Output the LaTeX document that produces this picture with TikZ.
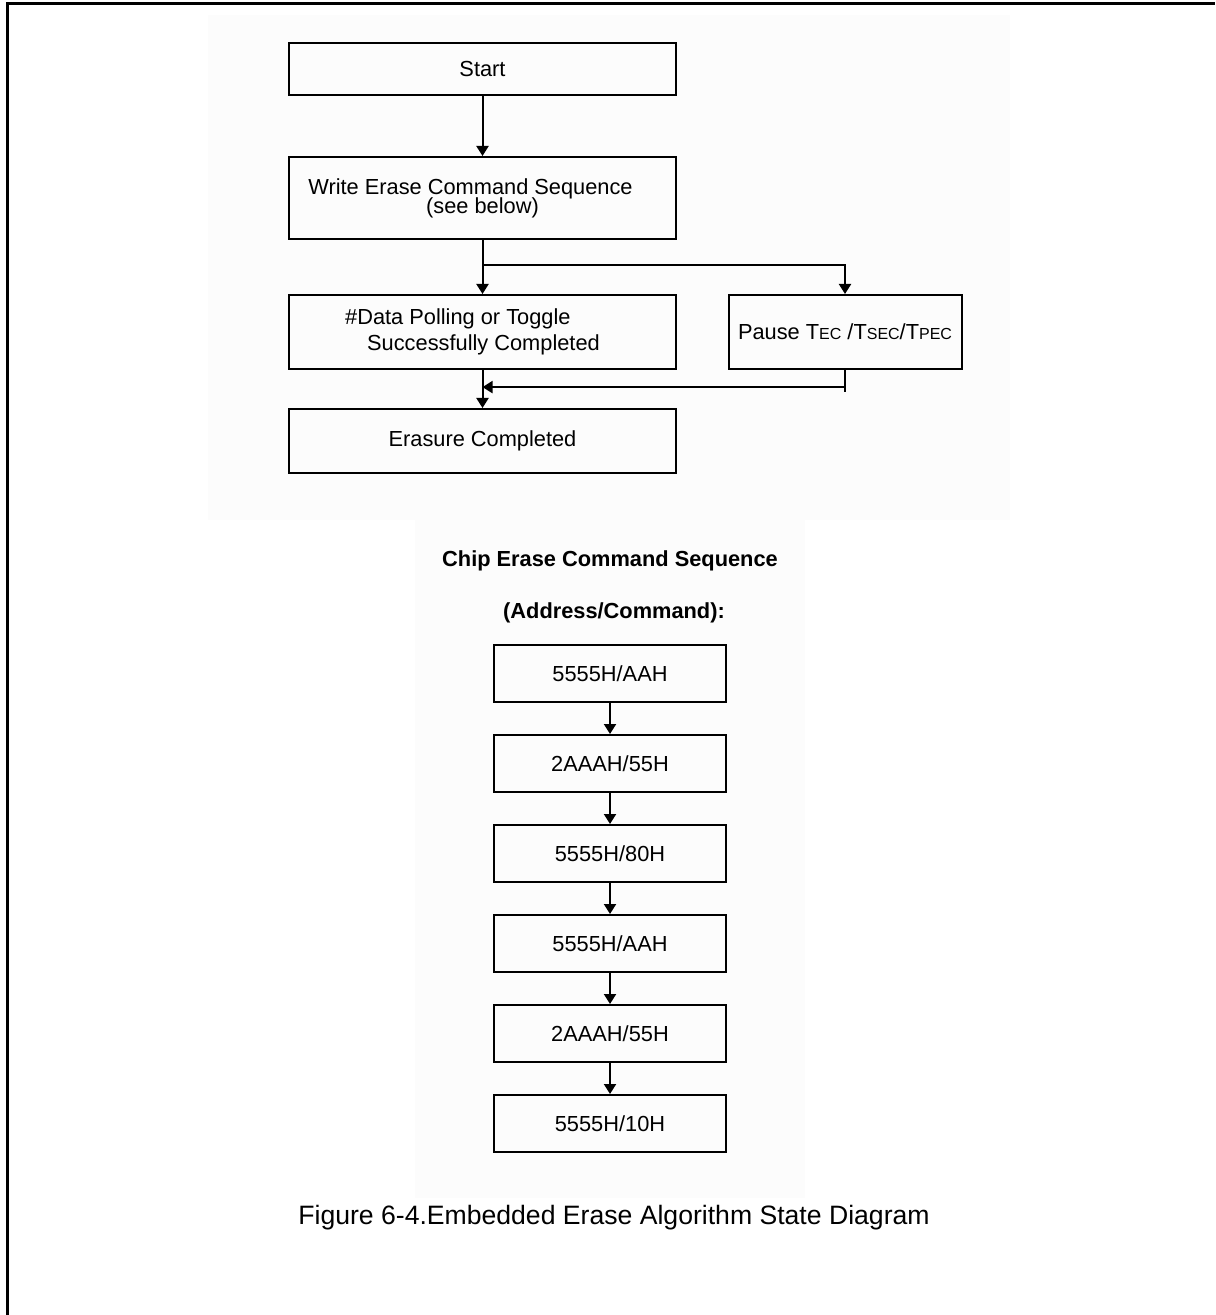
\documentclass[tikz,border=0pt]{standalone}
\usepackage{fontspec}
\setmainfont{Liberation Sans}
\usetikzlibrary{matrix, arrows.meta, calc}

\begin{document}
\begin{tikzpicture}[x=0.5pt, y=-0.5pt,
  box/.style={draw, line width=1pt, inner sep=0pt, font=\fontsize{10.9}{13}\selectfont},
  wide/.style={box, minimum width=193.5pt},
  head/.style={font=\bfseries\fontsize{10.9}{13}\selectfont},
  >={Triangle[width=6pt,length=5pt]}]
  \useasboundingbox (0,0) rectangle (1215,1315);
  % scanned page
  \fill[black!1] (208,15) rectangle (1010,520);
  \fill[black!1] (415,520) rectangle (805,1198);
  \draw[line width=1.5pt] (7,1315) -- (7,4) -- (1215,4);

  \node[wide, minimum height=26pt] (start) at (482.5,69) {Start};
  \node[wide, minimum height=41pt, align=center] (write) at (482.5,198) {Write Erase Command Sequence\hspace*{12pt}\\[-3.5pt](see below)};
  \node[wide, minimum height=37pt, align=left] (poll) at (482.5,332) {\#Data Polling or Toggle\\\hspace*{11pt}Successfully Completed\hspace*{10pt}};
  \node[box, minimum width=116.5pt, minimum height=37pt] (pause) at (845,332)
    {Pause\ T{\fontsize{8}{9}\selectfont EC} /T{\fontsize{8}{9}\selectfont SEC}/T{\fontsize{8}{9}\selectfont PEC}};
  \node[wide, minimum height=32pt] (done) at (482.5,441) {Erasure Completed};

  \coordinate (split) at ($(write.south)!0.47!(poll.north)$);
  \coordinate (join) at ($(poll.south)!0.45!(done.north)$);
  \path[->, line width=1pt]
    (start) edge (write)
    (write) edge (poll)
    (poll) edge (done)
    ;
  \draw[->, line width=1pt] (split) -| (pause);
  \draw[line width=1pt] (pause.south) -- ($(pause.south |- join)+(0,5)$);
  \draw[->, line width=1pt] (pause.south |- join) -- (join);

  % command sequence
  \node[head] (title) at (610,561) {Chip Erase Command Sequence};
  \node[head] (cols) at (614,613) {(Address/Command):};
  \matrix (seq) [matrix of nodes, row sep=15.5pt, inner sep=0pt,
    nodes={box, minimum width=116pt, minimum height=28.5pt}] at (610,898.5)
  {
    5555H/AAH \\
    2AAAH/55H \\
    5555H/80H \\
    5555H/AAH \\
    2AAAH/55H \\
    5555H/10H \\
  };
  \path[->, line width=1pt]
    (seq-1-1) edge (seq-2-1)
    (seq-2-1) edge (seq-3-1)
    (seq-3-1) edge (seq-4-1)
    (seq-4-1) edge (seq-5-1)
    (seq-5-1) edge (seq-6-1)
    ;

  \node[font=\fontsize{13.3}{16}\selectfont] (caption) at (614,1218) {Figure 6-4.Embedded Erase Algorithm State Diagram};
\end{tikzpicture}
\end{document}
